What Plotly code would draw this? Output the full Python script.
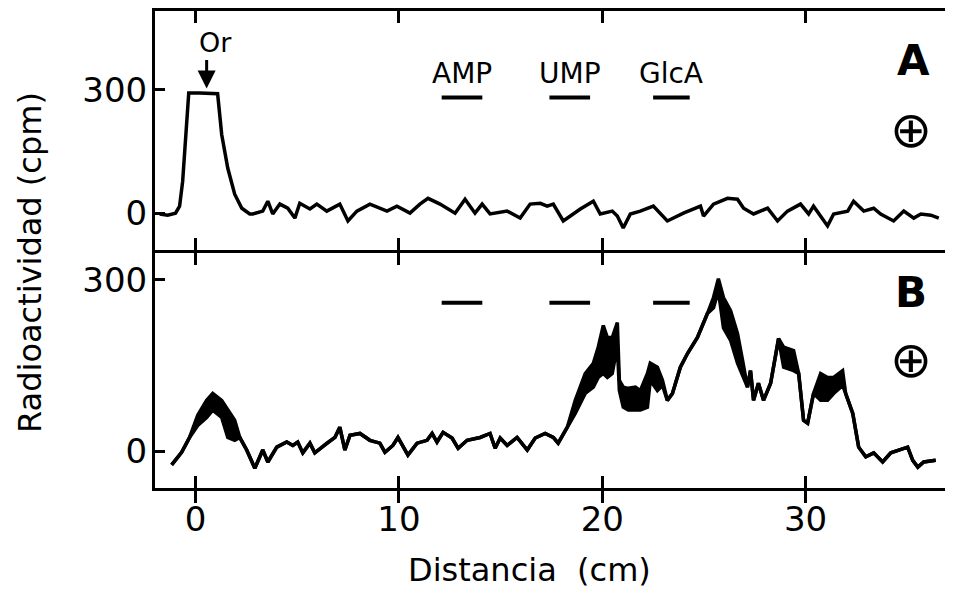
import plotly.graph_objects as go

# ---------------- data ----------------
dist_a = [-1.77, -1.38, -0.99, -0.79, -0.64, -0.49, -0.34, 0.20, 0.69, 1.08, 1.28, 1.58, 1.92, 2.27, 2.66,
          2.81, 3.30, 3.55, 3.79, 4.14, 4.53, 4.88, 5.12, 5.62, 5.96, 6.45, 7.09, 7.49, 7.93, 8.57, 9.41,
          9.90, 10.54, 11.03, 11.43, 12.02, 12.76, 13.25, 13.74, 14.09, 14.48, 15.32, 15.96, 16.45, 16.95,
          17.29, 17.59, 18.08, 18.92, 19.56, 19.90, 20.49, 20.74, 21.03, 21.38, 21.87, 22.51, 23.20, 23.99,
          24.83, 24.98, 25.47, 26.16, 26.65, 26.95, 27.44, 28.13, 28.62, 29.11, 29.75, 30.15, 30.39, 31.08,
          31.38, 32.07, 32.36, 32.86, 33.35, 33.69, 34.33, 34.83, 35.32, 35.67, 36.16, 36.55]
cpm_a = [-2, -5, 0, 17, 77, 199, 292, 292, 292, 290, 191, 109, 46, 12, -2,
         -2, 5, 29, -2, 22, 12, -12, 24, 10, 22, 5, 22, -19, 5, 22, 5,
         17, 0, 22, 36, 22, 0, 34, 0, 22, -2, 5, -12, 22, 24,
         17, 22, -19, 10, 29, -2, 5, -7, -36, -2, 5, 17, -19, 0,
         17, -7, 22, 36, 34, 12, -2, 12, -19, 5, 22, -2, 17, -31,
         -2, 5, 29, 5, 12, -2, -19, 5, -12, -2, -5, -12]

dist_b = [-1.18, -0.69, -0.30, 0.10, 0.54, 0.84, 1.28, 1.58, 1.92, 2.17, 2.51, 2.91, 3.30, 3.55, 3.99,
          4.48, 4.78, 5.02, 5.27, 5.62, 5.86, 6.45, 6.85, 7.09, 7.34, 7.59, 8.08, 8.57, 9.06, 9.31,
          9.70, 9.95, 10.20, 10.44, 10.89, 11.38, 11.63, 11.87, 12.17, 12.61, 12.91, 13.35, 13.99, 14.48,
          14.73, 14.98, 15.32, 15.81, 16.31, 16.70, 17.19, 17.59, 17.83, 18.28, 18.67, 19.16, 19.56, 19.80,
          20.05, 20.25, 20.49, 20.74, 20.84, 21.03, 21.28, 21.63, 21.87, 22.22, 22.36, 22.71, 22.96, 23.20,
          23.45, 23.84, 24.19, 24.68, 25.17, 25.47, 25.71, 25.96, 26.31, 26.65, 26.90, 27.14, 27.29, 27.44,
          27.68, 27.93, 28.28, 28.52, 28.67, 28.92, 29.41, 29.66, 29.90, 30.10, 30.39, 30.74, 31.08, 31.38,
          31.82, 31.97, 32.32, 32.61, 32.96, 33.35, 33.79, 34.19, 34.58, 35.02, 35.27, 35.52, 35.81, 36.40]
# upper and lower edge of the (noisy, thick) recorder trace
cpm_b_high = [-24, -2, 24, 63, 89, 101, 89, 72, 54, 24, 2, -30, 2, -19, 7,
              16, 10, 16, -3, 14, -3, 14, 24, 42, 2, 28, 31, 19, 14, -2,
              10, 24, 7, -7, 14, 19, 31, 16, 33, 23, 5, 19, 24, 31,
              5, 23, 10, 24, 2, 23, 31, 24, 14, 42, 89, 136, 154, 182,
              220, 199, 199, 225, 124, 112, 110, 112, 106, 136, 154, 147, 124, 89,
              101, 147, 171, 199, 241, 269, 302, 269, 246, 206, 159, 112, 141, 89,
              119, 89, 119, 171, 197, 182, 176, 136, 54, 49, 101, 136, 129, 129,
              141, 101, 66, 7, -10, -3, -19, -3, 2, 7, -16, -28, -19, -16]
cpm_b_low = [-24, -2, 24, 45, 59, 72, 59, 24, 19, 24, 2, -30, 2, -19, 7,
             16, 10, 16, -3, 14, -3, 14, 24, 42, 2, 28, 31, 19, 14, -2,
             10, 24, 7, -7, 14, 19, 31, 16, 33, 23, 5, 19, 24, 31,
             5, 23, 10, 24, 2, 23, 31, 24, 14, 42, 66, 101, 112, 129,
             136, 129, 136, 185, 106, 77, 72, 72, 72, 77, 124, 106, 115, 89,
             101, 147, 171, 199, 241, 251, 281, 216, 194, 154, 133, 112, 141, 89,
             119, 89, 119, 171, 197, 147, 141, 136, 54, 49, 101, 89, 89, 101,
             115, 101, 66, 7, -10, -3, -19, -3, 2, 7, -16, -28, -19, -16]

# reference standards (migration zones)
standards = ["AMP", "UMP", "GlcA"]
std_start = [12.1, 17.4, 22.5]
std_end = [14.1, 19.4, 24.3]
std_level_a = 281
std_level_b = 260

origin_x = 0.54   # "Or" arrow position (cm)

x_ticks = [0, 10, 20, 30]
y_ticks = [0, 300]

# ---------------- figure ----------------
FONT = "DejaVu Sans"
BLACK = "black"
H = 479.0
dom_a = [(488 - 249) / H, 1.0]
dom_b = [0.0, (488 - 252) / H]
LW = 3.5

fig = go.Figure()

fig.add_trace(go.Scatter(x=dist_a, y=cpm_a, mode="lines", xaxis="x", yaxis="y",
                         line=dict(color=BLACK, width=LW), hoverinfo="skip"))
fig.add_trace(go.Scatter(x=dist_b, y=cpm_b_low, mode="lines", xaxis="x2", yaxis="y2",
                         line=dict(color=BLACK, width=LW), hoverinfo="skip"))
fig.add_trace(go.Scatter(x=dist_b, y=cpm_b_high, mode="lines", xaxis="x2", yaxis="y2",
                         fill="tonexty", fillcolor=BLACK,
                         line=dict(color=BLACK, width=LW), hoverinfo="skip"))

bx, bya, byb = [], [], []
for s, e in zip(std_start, std_end):
    bx += [s, e, None]
    bya += [std_level_a, std_level_a, None]
    byb += [std_level_b, std_level_b, None]
fig.add_trace(go.Scatter(x=bx, y=bya, mode="lines", xaxis="x", yaxis="y",
                         line=dict(color=BLACK, width=4), hoverinfo="skip"))
fig.add_trace(go.Scatter(x=bx, y=byb, mode="lines", xaxis="x2", yaxis="y2",
                         line=dict(color=BLACK, width=4), hoverinfo="skip"))
fig.add_trace(go.Scatter(x=[], y=[], xaxis="x", yaxis="y3", showlegend=False))
fig.add_trace(go.Scatter(x=[], y=[], xaxis="x2", yaxis="y4", showlegend=False))

xr = [-2.0, 37.25]
ya_range = [-89.5, 491]
yb_range = [-64.5, 347]

xcommon = dict(range=xr, tickvals=x_ticks, ticks="inside", ticklen=12, tickwidth=3,
               tickcolor=BLACK, showline=True, linecolor=BLACK, linewidth=3,
               mirror="allticks", showgrid=False, zeroline=False)
ycommon = dict(tickvals=y_ticks, ticks="inside", ticklen=10, tickwidth=3, tickcolor=BLACK,
               showline=True, linecolor=BLACK, linewidth=3, showgrid=False, zeroline=False,
               tickfont=dict(family=FONT, size=34, color=BLACK), ticklabelstandoff=-2)
yright = dict(tickvals=y_ticks, ticks="inside", ticklen=8, tickwidth=3, tickcolor=BLACK,
              showline=False, showgrid=False, zeroline=False, showticklabels=False,
              side="right")

fig.update_layout(
    width=945, height=582,
    margin=dict(l=147, r=0, t=1, b=102),
    paper_bgcolor="white", plot_bgcolor="white",
    showlegend=False,
    xaxis=dict(anchor="y", domain=[0, 1], showticklabels=False, **xcommon),
    xaxis2=dict(anchor="y2", domain=[0, 1], matches="x", showticklabels=True,
                tickfont=dict(family=FONT, size=34, color=BLACK), ticklabelstandoff=-1, **xcommon),
    yaxis=dict(anchor="x", domain=dom_a, range=ya_range, **ycommon),
    yaxis2=dict(anchor="x2", domain=dom_b, range=yb_range, **ycommon),
    yaxis3=dict(anchor="x", overlaying="y", range=ya_range, **yright),
    yaxis4=dict(anchor="x2", overlaying="y2", range=yb_range, **yright),
)

ann = []
for name, s, e in zip(standards, std_start, std_end):
    ann.append(dict(x=(s + e) / 2, y=339, xref="x", yref="y", text=name, showarrow=False,
                    font=dict(family=FONT, size=28, color=BLACK)))
ann.append(dict(x=origin_x, y=303, xref="x", yref="y", text="", showarrow=True,
                ax=0, ay=-30, arrowhead=2, arrowsize=1.2, arrowwidth=3, arrowcolor=BLACK))
ann.append(dict(x=0.98, y=414, xref="x", yref="y", text="Or", showarrow=False,
                font=dict(family=FONT, size=27, color=BLACK)))
ann.append(dict(x=35.3, y=370, xref="x", yref="y", text="<b>A</b>", showarrow=False,
                font=dict(family=FONT, size=42, color=BLACK)))
ann.append(dict(x=35.2, y=201, xref="x", yref="y", text="⊕", showarrow=False,
                font=dict(family=FONT, size=50, color=BLACK)))
ann.append(dict(x=35.2, y=277, xref="x2", yref="y2", text="<b>B</b>", showarrow=False,
                font=dict(family=FONT, size=42, color=BLACK)))
ann.append(dict(x=35.2, y=159, xref="x2", yref="y2", text="⊕", showarrow=False,
                font=dict(family=FONT, size=50, color=BLACK)))
ann.append(dict(x=(529 - 155) / 798, y=0, xref="paper", yref="paper", yshift=-82, yanchor="middle",
                text="Distancia  (cm)", showarrow=False,
                font=dict(family=FONT, size=32, color=BLACK)))
ann.append(dict(x=0, y=(488 - 262) / H, xref="paper", yref="paper", xshift=-125,
                xanchor="center", yanchor="middle", textangle=-90,
                text="Radioactividad (cpm)", showarrow=False,
                font=dict(family=FONT, size=32, color=BLACK)))
fig.update_layout(annotations=ann)

fig.write_html("out.html")
